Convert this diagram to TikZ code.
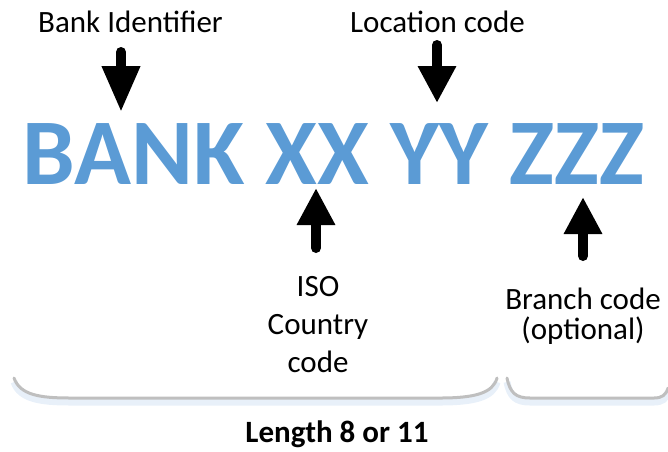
\documentclass[tikz,border=0pt]{standalone}
\usepackage{fontspec}
\setmainfont{Carlito}
\usepackage{xcolor}
\usetikzlibrary{positioning, arrows.meta}

\definecolor{bicblue}{HTML}{5B9BD5}
\definecolor{bracegray}{HTML}{BFBFBF}
\definecolor{braceglow}{HTML}{E8F0F9}

\begin{document}
\begin{tikzpicture}[x=0.5pt, y=-0.5pt,
    tag/.style={text=black, align=center, anchor=base, inner sep=0pt,
      font=\fontsize{15.5}{18.8}\selectfont},
    bicfont/.style={text=bicblue, anchor=base west, inner sep=0pt,
      font=\bfseries\fontsize{47}{55}\selectfont},
    pointer/.style={line width=5pt, line cap=round,
      -{Triangle[length=#1, width=18pt]}},
    pointer/.default=18.5pt,
    bracket/.style={draw=bracegray, line width=1.5pt, line cap=round,
      preaction={draw=braceglow, line width=3.5pt, transform canvas={yshift=-2pt}}}]
    \useasboundingbox (0,0) rectangle (668,451);

    \node[bicfont] (bic) at (22,184) {BANK XX YY ZZZ};

    \node[tag] (bankid) at (130.5,32) {Bank Identifier};
    \node[tag] (loc) at (437.5,32) {Location code};
    % multi-line tags sit on their last baseline
    \node[tag] (iso) at (318,372) {ISO\\Country\\code};
    \node[tag, font=\fontsize{15.5}{15}\selectfont] (branch) at (583,339) {Branch code\\(optional)};
    \node[tag, font=\bfseries\fontsize{15.5}{18.8}\selectfont] (len) at (337,442) {Length 8 or 11};

    \coordinate (bankid-tail) at (121,52);
    \coordinate (bankid-tip) at (121,112);
    \coordinate (loc-tail) at (437,45);
    \coordinate (loc-tip) at (437,103);
    \coordinate (iso-tail) at (316,248);
    \coordinate (iso-tip) at (316,188);
    \coordinate (branch-tail) at (583,256);
    \coordinate (branch-tip) at (583,197);

    \draw[pointer=23pt] (bankid-tail) -- (bankid-tip);
    \draw[pointer] (loc-tail) -- (loc-tip);
    \draw[pointer] (iso-tail) -- (iso-tip);
    \draw[pointer] (branch-tail) -- (branch-tip);

    % braces under the code
    \draw[bracket] (14,378) .. controls (20,395) and (40,398) .. (70,398)
      -- (440,398) .. controls (475,398) and (493,393) .. (497,378);
    \draw[bracket] (507,378) .. controls (510,393) and (516,398) .. (530,398)
      -- (654,398) .. controls (662,398) and (666,395) .. (668,388);
  \end{tikzpicture}
\end{document}
